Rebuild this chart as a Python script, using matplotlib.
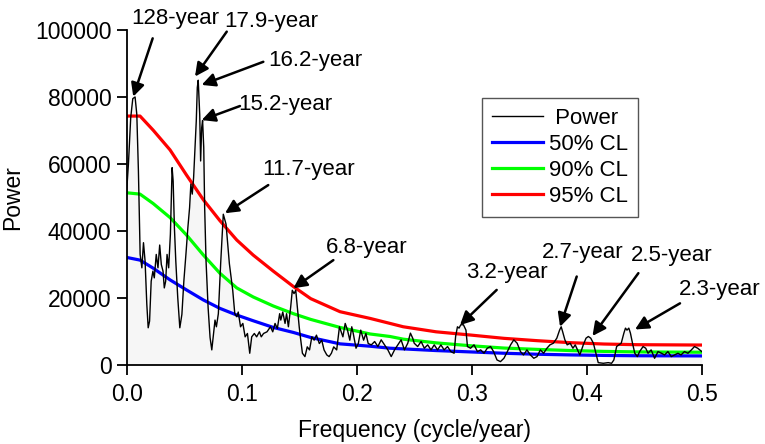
import matplotlib
matplotlib.use("Agg")
import matplotlib.pyplot as plt
from matplotlib import font_manager

# spectrum of the series (frequency in cycle/year, power)
freq = [0.0, 0.0015, 0.0035, 0.0053, 0.0073, 0.0088, 0.0102, 0.0117, 0.0132, 0.0146,
        0.016, 0.0175, 0.0187, 0.0199, 0.0213, 0.0228, 0.024, 0.0257, 0.0272, 0.0287,
        0.0301, 0.0316, 0.0327, 0.0339, 0.0351, 0.0365, 0.038, 0.0395, 0.0404, 0.0415,
        0.0427, 0.0444, 0.0462, 0.048, 0.0497, 0.0515, 0.0532, 0.0547, 0.0558, 0.057,
        0.0582, 0.0594, 0.0605, 0.0614, 0.0622, 0.0635, 0.0643, 0.0652, 0.066, 0.067,
        0.0678, 0.069, 0.0708, 0.0725, 0.074, 0.0755, 0.0768, 0.078, 0.0797, 0.0817,
        0.084, 0.0864, 0.0893, 0.0922, 0.094, 0.0957, 0.097, 0.099, 0.101, 0.103,
        0.105, 0.107, 0.1087, 0.111, 0.113, 0.1154, 0.117, 0.119, 0.122, 0.125,
        0.127, 0.129, 0.131, 0.133, 0.134, 0.1357, 0.1377, 0.139, 0.1406, 0.1426,
        0.144, 0.1455, 0.147, 0.1484, 0.15, 0.151, 0.1528, 0.155, 0.157, 0.159,
        0.161, 0.163, 0.165, 0.1675, 0.1696, 0.1716, 0.174, 0.176, 0.178, 0.18,
        0.1826, 0.185, 0.186, 0.188, 0.19, 0.192, 0.194, 0.1957, 0.197, 0.1994,
        0.2014, 0.2035, 0.206, 0.208, 0.21, 0.2127, 0.2156, 0.2184, 0.2213, 0.2242,
        0.2271, 0.23, 0.2329, 0.2357, 0.2386, 0.2415, 0.2444, 0.2467, 0.2487, 0.25,
        0.253, 0.256, 0.2588, 0.2617, 0.2646, 0.2674, 0.2703, 0.2732, 0.276, 0.279,
        0.2818, 0.2847, 0.286, 0.2876, 0.289, 0.2905, 0.2928, 0.295, 0.2963, 0.299,
        0.302, 0.305, 0.3078, 0.3107, 0.3135, 0.3164, 0.319, 0.322, 0.325, 0.328,
        0.331, 0.3338, 0.3366, 0.3395, 0.3424, 0.345, 0.348, 0.351, 0.354, 0.3568,
        0.3597, 0.3625, 0.3654, 0.368, 0.371, 0.374, 0.3764, 0.3778, 0.379, 0.381,
        0.383, 0.3856, 0.388, 0.39, 0.392, 0.394, 0.397, 0.3994, 0.4014, 0.4035,
        0.4058, 0.408, 0.41, 0.4144, 0.4187, 0.4216, 0.4236, 0.426, 0.428, 0.43,
        0.4323, 0.4337, 0.435, 0.4366, 0.438, 0.4398, 0.4418, 0.444, 0.446, 0.449,
        0.4513, 0.4533, 0.456, 0.459, 0.462, 0.465, 0.4677, 0.4706, 0.4735, 0.4764,
        0.4793, 0.482, 0.485, 0.488, 0.491, 0.4937, 0.4965, 0.5]
power = [52000, 59900, 73800, 79500, 80000, 74800, 57900, 33000, 29000, 36500,
         31000, 18100, 11100, 13100, 25000, 28000, 26000, 33000, 29000, 35800,
         30000, 28000, 23000, 25000, 33000, 29000, 39000, 58900, 54900, 41000,
         31000, 20100, 11100, 15100, 25000, 33000, 41000, 47000, 54000, 51000,
         56000, 64900, 72800, 82800, 85000, 74800, 60900, 70800, 73000, 64900,
         47000, 31000, 17100, 8200, 4500, 9200, 13400, 11400, 15300, 30200,
         45000, 42000, 30200, 22300, 15300, 14400, 15800, 11400, 12400, 8400,
         9400, 3500, 8400, 9400, 8400, 9900, 8400, 9400, 9900, 11400,
         9900, 12400, 10900, 15300, 13400, 15800, 12400, 15300, 11400, 17300,
         22300, 21300, 22300, 17300, 11400, 8400, 3500, 2500, 5400, 4500,
         8400, 7400, 8900, 6400, 7400, 4500, 3000, 2500, 3500, 5400,
         4500, 11400, 10400, 8400, 12400, 10400, 7400, 11400, 9400, 5000,
         6400, 10400, 7400, 9400, 6400, 6000, 7000, 5500, 7500, 6000,
         4500, 2500, 4500, 6000, 7500, 4500, 6500, 9500, 8000, 6500,
         5500, 7000, 5000, 6000, 4500, 6000, 4500, 6000, 4500, 5500,
         4000, 3500, 8500, 11400, 11000, 12000, 12000, 10400, 5500, 5000,
         6000, 4000, 4500, 3500, 5000, 5500, 4000, 1500, 1000, 2000,
         4000, 6000, 7500, 6500, 4000, 3000, 4500, 3000, 2000, 2500,
         4500, 3500, 5000, 6000, 6500, 8000, 10400, 11400, 10000, 7500,
         6000, 6500, 5000, 6000, 4500, 3000, 6000, 8000, 8500, 8000,
         6500, 3500, 700, 500, 700, 500, 1500, 5500, 6000, 6500,
         9500, 11000, 10400, 11000, 9500, 6500, 3500, 2500, 4000, 5500,
         5000, 3500, 4500, 2000, 4000, 3500, 3000, 4000, 2500, 3000,
         3500, 3000, 4000, 3500, 4500, 5500, 5000, 4000]

# red-noise confidence levels
cl_freq = [0.0, 0.0116, 0.023, 0.0377, 0.052, 0.0667, 0.081, 0.0957, 0.11, 0.1275,
           0.145, 0.16, 0.1855, 0.2116, 0.229, 0.2405, 0.269, 0.2985, 0.328, 0.357,
           0.386, 0.415, 0.444, 0.5]
cl50 = [32100, 31300, 28900, 25400, 22400, 19400, 16900, 14900, 13200, 11200,
        9700, 8200, 6300, 5600, 5000, 4800, 4300, 3900, 3500, 3200,
        3000, 2850, 2750, 2700]
cl90 = [51400, 51000, 48200, 44000, 38800, 32800, 27400, 23000, 20300, 17600,
        15300, 13600, 11200, 9250, 8500, 7700, 6600, 5750, 5050, 4650,
        4300, 4050, 3900, 3800]
cl95 = [74300, 74300, 70100, 64200, 56700, 49300, 43100, 37300, 32800, 28000,
        23400, 19800, 15900, 13900, 12400, 11400, 9900, 8950, 7950, 7250,
        6650, 6250, 6050, 5950]

# peak labels: text, arrow tip, arrow tail, text centre
labels = ["128-year", "17.9-year", "16.2-year", "15.2-year", "11.7-year",
          "6.8-year", "3.2-year", "2.7-year", "2.5-year", "2.3-year"]
tips = [(0.0057, 80100), (0.0594, 86100), (0.0652, 83600), (0.0652, 73100),
        (0.0855, 45300), (0.1449, 22900), (0.2898, 11900), (0.3768, 11400),
        (0.405, 8660), (0.442, 10600)]
tails = [(0.0226, 97500), (0.087, 99500), (0.1188, 90500), (0.0985, 77300),
         (0.1231, 53700), (0.1797, 31300), (0.3217, 22400), (0.3913, 26400),
         (0.4449, 27400), (0.4811, 18400)]
text_pos = [(0.0420, 103300), (0.1255, 102500), (0.1637, 91000), (0.1377, 77900),
            (0.1585, 58200), (0.2087, 35100), (0.3304, 27600), (0.3968, 33700),
            (0.4737, 32800), (0.5157, 22400)]

names = {f.name for f in font_manager.fontManager.ttflist}
narrow = "Liberation Sans Narrow" if "Liberation Sans Narrow" in names else "Liberation Sans"
axis_fs = 19.5 if narrow == "Liberation Sans Narrow" else 16.5

plt.rcParams["font.family"] = ["Liberation Sans", "DejaVu Sans"]

fig = plt.figure(figsize=(7.65, 4.44), dpi=100)
ax = fig.add_axes([0.1656, 0.178, 0.7517, 0.7545])

ax.fill_between(freq, power, 0, color="#f6f6f6", lw=0, zorder=1)
ax.plot(freq, power, color="black", lw=1.0, label=" Power", zorder=3)
ax.plot(cl_freq, cl50, color="#0000ff", lw=2.3, label="50% CL", zorder=2)
ax.plot(cl_freq, cl90, color="#00ff00", lw=2.3, label="90% CL", zorder=2)
ax.plot(cl_freq, cl95, color="#ff0000", lw=2.3, label="95% CL", zorder=2)

for lab, tip, tail, pos in zip(labels, tips, tails, text_pos):
    ax.annotate("", xy=tip, xytext=tail,
                arrowprops=dict(arrowstyle="-|>", color="black", lw=1.8,
                                mutation_scale=20, shrinkA=0, shrinkB=0),
                annotation_clip=False, zorder=5)
    ax.text(pos[0], pos[1], lab, ha="center", va="center", fontsize=16,
            clip_on=False, zorder=5)

ax.set_xlim(0, 0.5)
ax.set_ylim(0, 100000)
ax.set_xticks([0.0, 0.1, 0.2, 0.3, 0.4, 0.5])
ax.set_xticklabels(["0.0", "0.1", "0.2", "0.3", "0.4", "0.5"])
ax.set_yticks([0, 20000, 40000, 60000, 80000, 100000])
ax.set_yticklabels(["0", "20000", "40000", "60000", "80000", "100000"])
for t in ax.get_xticklabels() + ax.get_yticklabels():
    t.set_family(narrow)
    t.set_fontsize(axis_fs)

ax.spines["top"].set_visible(False)
ax.spines["right"].set_visible(False)
ax.spines["left"].set_linewidth(1.3)
ax.spines["bottom"].set_linewidth(1.3)
ax.tick_params(direction="out", length=7, width=1.3)
ax.tick_params(axis="x", pad=6)
ax.tick_params(axis="y", pad=4)

ax.set_xlabel("Frequency (cycle/year)", family=narrow, fontsize=axis_fs, labelpad=9)
ax.set_ylabel("Power", family=narrow, fontsize=axis_fs, labelpad=8)

leg = ax.legend(loc="upper left", bbox_to_anchor=(0.618, 0.797), borderaxespad=0,
                fontsize=16, fancybox=False, edgecolor="#555555", framealpha=1,
                handlelength=2.3, handletextpad=0.25, labelspacing=0.22,
                borderpad=0.45)
leg.get_frame().set_linewidth(1.0)

fig.savefig("out.png", dpi=100)
